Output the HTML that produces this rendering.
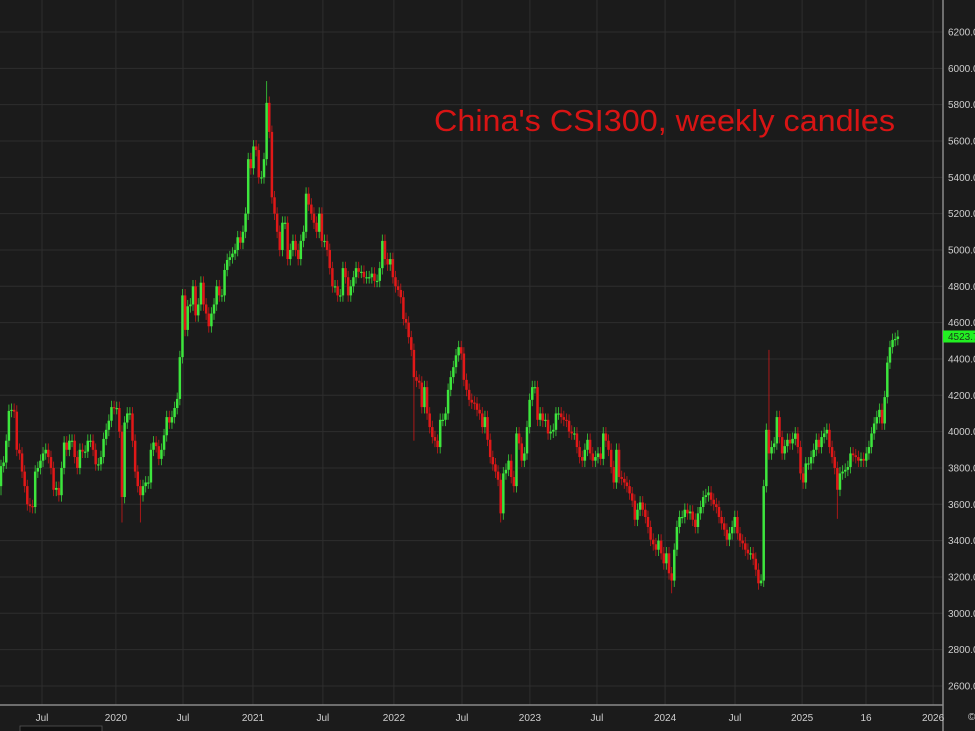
<!DOCTYPE html>
<html><head><meta charset="utf-8">
<style>
html,body{margin:0;padding:0;background:#1b1b1b;overflow:hidden}
svg{display:block}
</style></head>
<body>
<svg id="chart" width="975" height="731" viewBox="0 0 975 731" xmlns="http://www.w3.org/2000/svg">
<rect x="0" y="0" width="975" height="731" fill="#1b1b1b"/>
<g id="grid"></g>
<g id="candles"></g>
<text x="434" y="131" fill="#d81414" font-family="Liberation Sans, sans-serif" font-size="31" textLength="461" lengthAdjust="spacingAndGlyphs">China's CSI300, weekly candles</text>
<g id="yaxis"></g>
<g id="xaxis"></g>
</svg>
<script>
const closes = [
3810,3830,3950,4114,4120,4110,3900,3880,3780,3700,
3600,3590,3585,3780,3800,3840,3880,3900,3860,3800,
3680,3690,3650,3800,3940,3900,3950,3950,3860,3800,
3900,3890,3890,3950,3950,3900,3820,3820,3860,3960,
4010,4060,4135,4130,4130,4000,3640,4050,4100,4100,
3950,3780,3700,3650,3700,3720,3720,3900,3940,3920,
3850,3900,3980,4080,4050,4080,4130,4180,4410,4750,
4560,4690,4700,4800,4640,4700,4820,4700,4650,4580,
4650,4700,4800,4750,4750,4890,4945,4960,4980,5000,
5070,5040,5100,5200,5500,5450,5570,5550,5400,5400,
5500,5810,5650,5290,5200,5100,5000,5150,5150,4950,
5000,5050,5000,4950,5050,5100,5310,5250,5200,5150,
5100,5200,5050,5050,5000,4900,4800,4800,4750,4750,
4900,4850,4750,4800,4850,4900,4880,4880,4850,4850,
4850,4870,4830,4830,4900,5050,4950,4920,4950,4850,
4800,4780,4740,4620,4600,4520,4450,4300,4280,4270,
4135,4245,4100,4025,3970,3950,3915,4065,4065,4100,
4230,4300,4355,4420,4465,4430,4285,4230,4175,4160,
4155,4120,4100,4025,4080,3955,3860,3820,3780,3735,
3550,3770,3790,3840,3750,3700,3990,3935,3840,3880,
4025,4175,4245,4245,4065,4100,4060,4065,3990,4000,
4010,4100,4100,4080,4065,4060,4000,3990,3990,3915,
3860,3840,3900,3955,3880,3840,3860,3880,3850,3990,
3950,3900,3805,3720,3900,3750,3740,3720,3700,3660,
3620,3515,3570,3610,3570,3530,3475,3405,3380,3350,
3400,3330,3275,3330,3220,3180,3350,3475,3530,3530,
3570,3550,3560,3515,3475,3550,3585,3640,3650,3665,
3625,3600,3585,3530,3495,3460,3405,3440,3475,3530,
3440,3400,3385,3350,3330,3330,3300,3240,3165,3180,
3700,4010,3880,3915,3935,4080,3970,3880,3920,3955,
3935,3960,3990,3915,3770,3720,3825,3825,3860,3900,
3955,3915,3970,3990,4010,3915,3860,3800,3680,3770,
3780,3790,3805,3880,3870,3860,3840,3850,3840,3880,
3915,3990,4045,4080,4120,4045,4190,4380,4465,4505,
4510,4523.7
];
const firstOpen = 3700;
const wickIdx = [0, 46, 53, 101, 157, 190, 255, 289, 292, 318];
const wickVal = [3650, 3500, 3500, 5930, 3950, 3500, 3110, 3150, 4450, 3520];
const yTicks = [6200,6000,5800,5600,5400,5200,5000,4800,4600,4400,4200,4000,3800,3600,3400,3200,3000,2800,2600];
const xTickLabels = ["Jul","2020","Jul","2021","Jul","2022","Jul","2023","Jul","2024","Jul","2025","16","2026"];
const xTickWeeks = [15.6,43.7,69.2,95.8,122.4,149.4,175.3,201.1,226.6,252.5,279.1,304.6,328.9,354.4];
const lastPrice = 4523.7;

const NS = "http://www.w3.org/2000/svg";
const plotRight = 943, axisY = 705;
function yScale(v){ return 32 + (6200 - v) * 36.33 / 200; }
function xScale(w){ return 1 + w * 2.63; }
function mk(tag, attrs, parent){
  const e = document.createElementNS(NS, tag);
  for (const k in attrs) e.setAttribute(k, attrs[k]);
  parent.appendChild(e); return e;
}
const grid = document.getElementById('grid');
const cg = document.getElementById('candles');
const ya = document.getElementById('yaxis');
const xa = document.getElementById('xaxis');

yTicks.forEach(v => {
  const y = yScale(v);
  const l = mk('line', {x1:0, x2:plotRight, y1:y, y2:y, stroke:'#2e2e2e', 'stroke-width':1}, grid);
  
  
  const t = mk('text', {x:948, y:y+3.5, fill:'#cfcfcf', 'font-size':10, 'font-family':'Liberation Sans, sans-serif'}, ya);
  t.textContent = v.toFixed(1);
  
  
});
xTickWeeks.forEach((w, i) => {
  const x = xScale(w);
  const l = mk('line', {x1:x, x2:x, y1:0, y2:axisY, stroke:'#2e2e2e', 'stroke-width':1}, grid);
  
  
  const t = mk('text', {x:x, y:721, fill:'#cfcfcf', 'font-size':10, 'text-anchor':'middle', 'font-family':'Liberation Sans, sans-serif'}, xa);
  t.textContent = xTickLabels[i];
  
  
});
const ax1 = mk('line', {x1:0, x2:plotRight, y1:axisY, y2:axisY, stroke:'#8a8a8a', 'stroke-width':1.5}, xa);


const ax2 = mk('line', {x1:plotRight, x2:plotRight, y1:0, y2:731, stroke:'#8a8a8a', 'stroke-width':1.5}, ya);


const cp = mk('text', {x:968, y:720, fill:'#cfcfcf', 'font-size':10, 'font-family':'Liberation Sans, sans-serif'}, xa);
cp.textContent = '©';


const nav = mk('rect', {x:20, y:726, width:82, height:6, fill:'#111', stroke:'#555', 'stroke-width':0.8}, xa);



closes.forEach((c, i) => {
  const o = i === 0 ? firstOpen : closes[i-1];
  let hi = Math.max(o, c) + 35, lo = Math.min(o, c) - 35;
  const k = wickIdx.indexOf(i);
  if (k >= 0) { if (wickVal[k] > Math.max(o,c)) hi = wickVal[k]; else lo = wickVal[k]; }
  const up = c >= o;
  const col = up ? '#3de63d' : '#e01818';
  const x = xScale(i);
  const g = mk('g', {}, cg);
  
  
  mk('line', {x1:x, x2:x, y1:yScale(hi), y2:yScale(lo), stroke:col, 'stroke-width':0.9, opacity:0.8}, g);
  const yt = yScale(Math.max(o,c)), yb = yScale(Math.min(o,c));
  mk('rect', {x:x-1.25, y:yt, width:2.5, height:Math.max(1.2, yb-yt), fill:col}, g);
});

const ty = yScale(lastPrice);
const tag = mk('rect', {x:943, y:ty-6, width:32, height:12, fill:'#22f022'}, ya);


const tt = mk('text', {x:948, y:ty+3.5, fill:'#1a3a1a', 'font-size':10, 'font-family':'Liberation Sans, sans-serif'}, ya);
tt.textContent = lastPrice.toFixed(1);


</script>
</body></html>
